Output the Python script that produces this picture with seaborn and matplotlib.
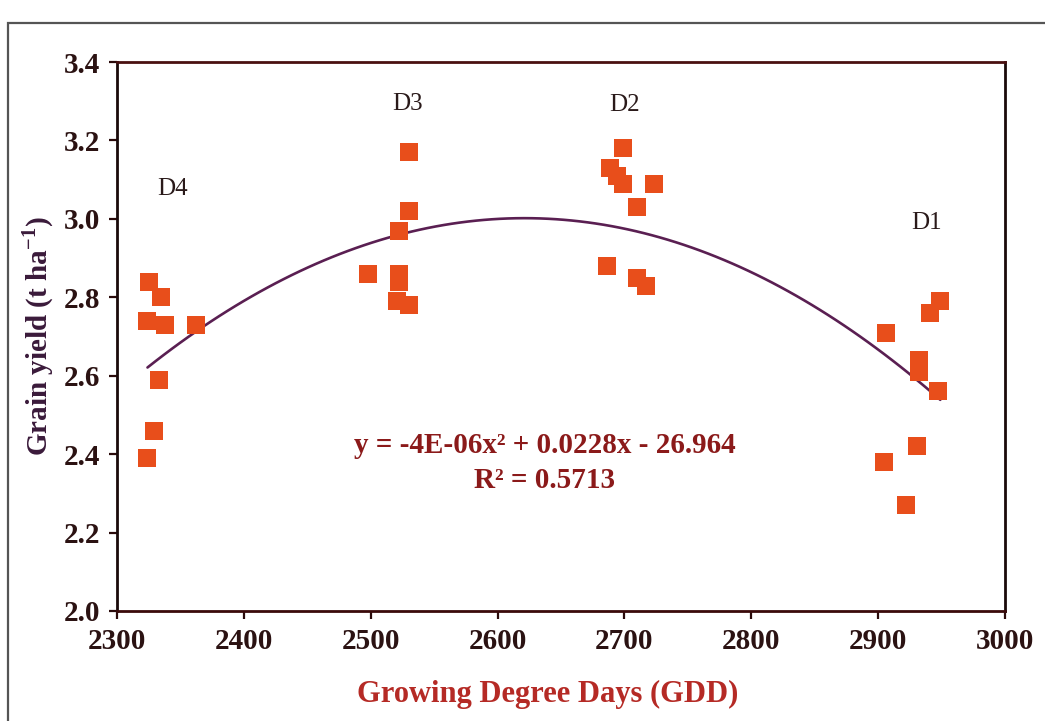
import matplotlib
matplotlib.use('Agg')
import matplotlib.pyplot as plt
import matplotlib.patches as patches
import seaborn as sns
import pandas as pd

# sowing dates, GDD and grain yield
d4_gdd = [2325, 2335, 2324, 2338, 2362, 2333, 2329, 2324]
d4_yld = [2.84, 2.80, 2.74, 2.73, 2.73, 2.59, 2.46, 2.39]
d3_gdd = [2530, 2530, 2522, 2498, 2522, 2522, 2521, 2530]
d3_yld = [3.17, 3.02, 2.97, 2.86, 2.86, 2.84, 2.79, 2.78]
d2_gdd = [2699, 2689, 2694, 2699, 2723, 2710, 2686, 2710, 2717]
d2_yld = [3.18, 3.13, 3.11, 3.09, 3.09, 3.03, 2.88, 2.85, 2.83]
d1_gdd = [2949, 2941, 2906, 2932, 2932, 2947, 2931, 2905, 2922]
d1_yld = [2.79, 2.76, 2.71, 2.64, 2.61, 2.56, 2.42, 2.38, 2.27]

groups = ['D4', 'D3', 'D2', 'D1']
label_x = [2344, 2529, 2700, 2938]
label_y = [3.076, 3.293, 3.291, 2.989]

x_ticks = [2300, 2400, 2500, 2600, 2700, 2800, 2900, 3000]
y_ticks = [2.0, 2.2, 2.4, 2.6, 2.8, 3.0, 3.2, 3.4]

eq_text = 'y = -4E-06x² + 0.0228x - 26.964'
r2_text = 'R² = 0.5713'

df = pd.DataFrame({
    'gdd': d4_gdd + d3_gdd + d2_gdd + d1_gdd,
    'yld': d4_yld + d3_yld + d2_yld + d1_yld,
})

sns.set_style('white')
plt.rcParams['font.family'] = ['Liberation Serif', 'DejaVu Serif']
plt.rcParams['mathtext.fontset'] = 'custom'
plt.rcParams['mathtext.rm'] = 'Liberation Serif'
plt.rcParams['mathtext.bf'] = 'Liberation Serif:bold'

fig = plt.figure(figsize=(10.45, 7.21), dpi=100)
ax = fig.add_axes([0.112, 0.1526, 0.8497, 0.7614])

# outer frame of the picture
fig.patches.append(patches.Rectangle((8 / 1045, -0.05), 1.1, 1 - 23 / 721 + 0.05,
                                     transform=fig.transFigure, fill=False,
                                     edgecolor='#555555', linewidth=1.6))

sns.regplot(data=df, x='gdd', y='yld', order=2, ci=None, scatter=False, ax=ax,
            line_kws={'color': '#5a1f52', 'linewidth': 1.9})
sns.scatterplot(data=df, x='gdd', y='yld', marker='s', s=175, color='#e84e1b',
                edgecolor='#e84e1b', linewidth=0, ax=ax, zorder=3)

for g, lx, ly in zip(groups, label_x, label_y):
    ax.text(lx, ly, g, ha='center', va='center', fontsize=18, color='#2a1a1a')

ax.text(2637, 2.423, eq_text, ha='center', va='center', fontsize=21,
        fontweight='bold', color='#8b1a1a')
ax.text(2637, 2.334, r2_text, ha='center', va='center', fontsize=21,
        fontweight='bold', color='#8b1a1a')

ax.set_xlim(2300, 3000)
ax.set_ylim(2.0, 3.4)
ax.set_xticks(x_ticks)
ax.set_yticks(y_ticks)
ax.set_xticklabels([str(t) for t in x_ticks], fontsize=21, fontweight='bold', color='#2b1212')
ax.set_yticklabels([f'{t:.1f}' for t in y_ticks], fontsize=21, fontweight='bold', color='#2b1212')
ax.set_xlabel('Growing Degree Days (GDD)', fontsize=22, fontweight='bold',
              color='#b52a25')
ax.xaxis.set_label_coords(0.485, -0.125)
ax.set_ylabel('Grain yield (t ha$^{\\mathbf{-1}}$)', fontsize=21, fontweight='bold',
              color='#3a1a3a', labelpad=6)

ax.tick_params(axis='both', direction='out', length=6, width=1.6, color='#2a0a0a',
               bottom=True, left=True, pad=6)
for side in ['left', 'bottom', 'top', 'right']:
    ax.spines[side].set_visible(True)
    ax.spines[side].set_linewidth(2.0)
ax.spines['left'].set_color('#1a0a0a')
ax.spines['bottom'].set_color('#3a0a0a')
ax.spines['top'].set_color('#4a1010')
ax.spines['right'].set_color('#1a0a0a')

fig.savefig('out.png', dpi=100)
